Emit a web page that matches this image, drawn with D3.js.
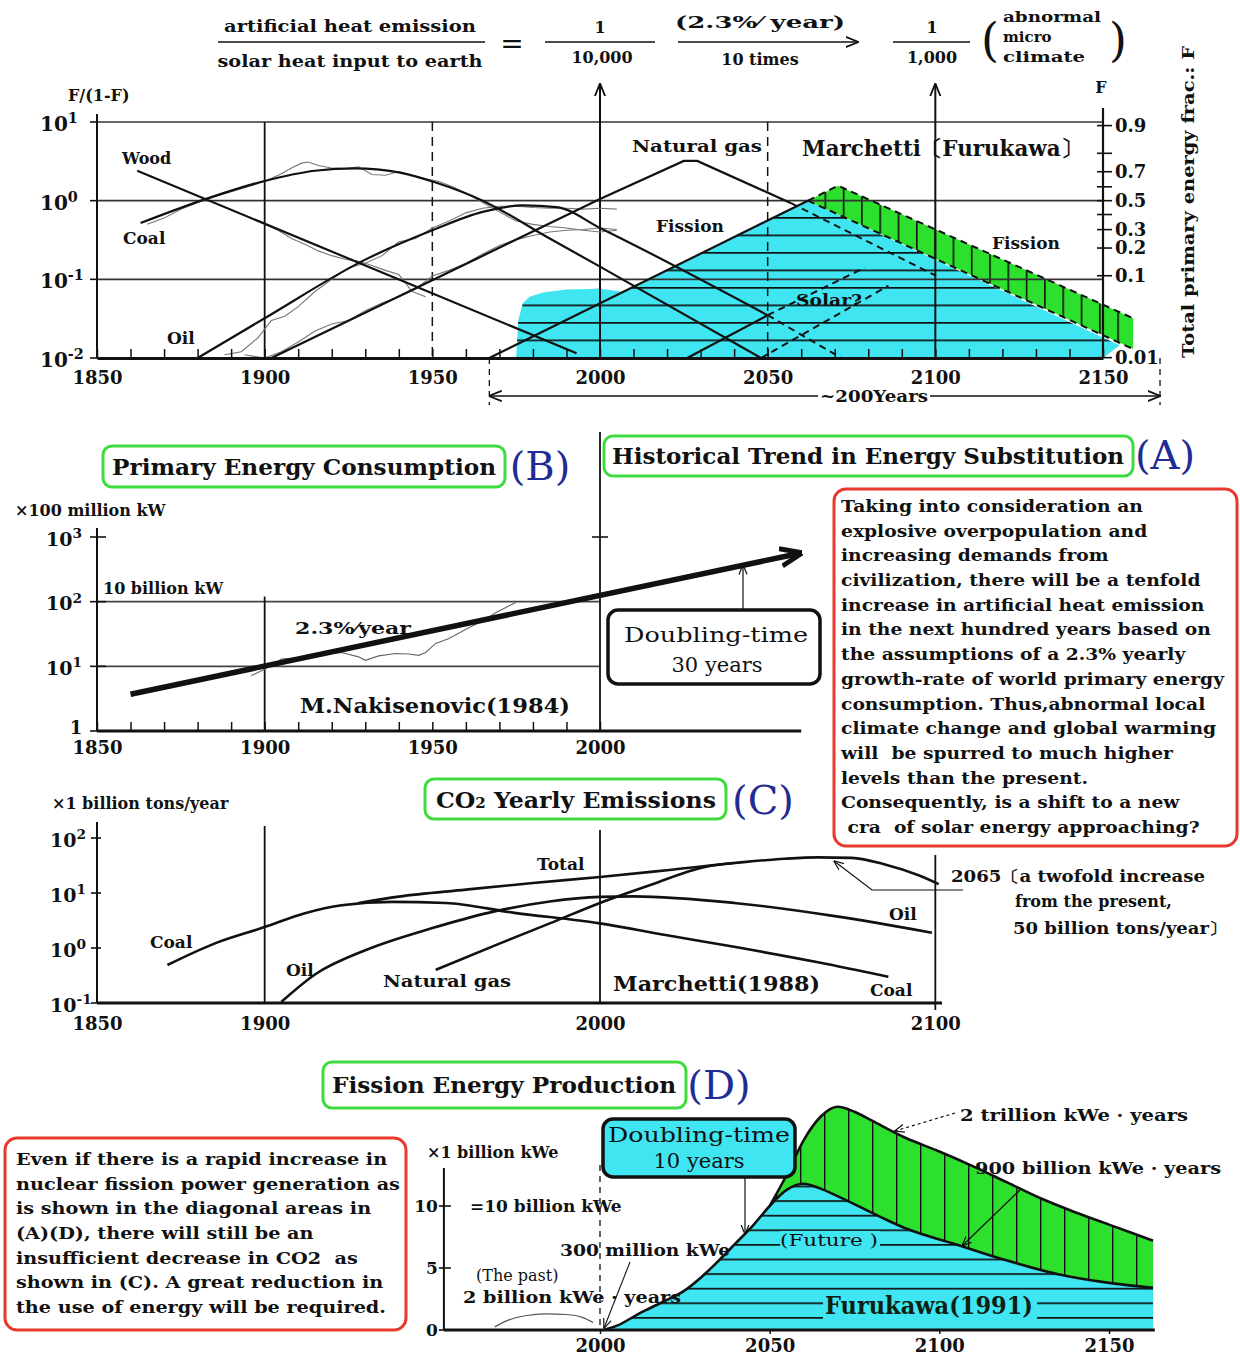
<!DOCTYPE html>
<html><head><meta charset="utf-8">
<script src="https://cdn.jsdelivr.net/npm/d3@7/dist/d3.min.js"></script>
<style>
html,body{margin:0;padding:0;background:#fff;}
svg{display:block;}
text{font-family:"DejaVu Serif","Liberation Serif",serif;}
</style></head><body>
<svg id="chart" width="1240" height="1358"></svg>
<script>
// ================= DATA =================
// Panel A : F/(1-F) ratios
const aWoodYears=[1862,1993], aWoodVals=[2.4,0.0115];
const aCoalYears=[1863,1883,1900,1915,1927,1940,1951,1965,1985,2000,2048];
const aCoalVals=[0.52,1.07,1.78,2.4,2.57,2.29,1.7,1.0,0.33,0.145,0.01];
const aOilYears=[1880,1900,1930,1950,1965,1977,1987,2000,2050];
const aOilVals=[0.01,0.032,0.178,0.42,0.72,0.87,0.83,0.45,0.035];
const aOilDashYears=[2050,2072], aOilDashVals=[0.035,0.01];
const aGasYears=[1902,1964,2000,2025,2029,2057], aGasVals=[0.01,0.19,1.05,3.2,3.2,0.93];
const aGasDashYears=[2057,2100], aGasDashVals=[0.93,0.112];
const aFissionYears=[1967,2062], aFissionVals=[0.01,1.0];
const aSolarYears=[2026,2050], aSolarVals=[0.01,0.035];
const aSolarDashYears=[2050,2079], aSolarDashVals=[0.035,0.141];
const aSolar2DashYears=[2048,2086], aSolar2DashVals=[0.01,0.083];
const aCyanYears=[1975,1975.6,1977,1979,1983,1990,2000,2007,2062,2155,2150];
const aCyanVals=[0.01,0.03,0.05,0.06,0.068,0.074,0.076,0.0695,1.0,0.0145,0.01];
const aGreenUpperYears=[2062,2071,2159], aGreenUpperVals=[1.0,1.55,0.032];
const aGreenLowerYears=[2062,2159], aGreenLowerVals=[1.0,0.013];
const aCoalHistYears=[1865,1870,1875,1880,1885,1890,1895,1900,1905,1908,1911,1913,1916,1920,1924,1928,1932,1936,1940,1944,1948,1952,1956,1960,1965,1970,1975,1980,1985,1990,1995,2000,2005];
const aCoalHistVals=[0.5,0.6,0.78,0.95,1.12,1.3,1.5,1.75,2.2,2.6,3.0,3.1,2.8,2.6,2.55,2.7,2.15,2.1,2.35,2.1,1.9,1.75,1.5,1.25,0.95,0.72,0.55,0.5,0.47,0.45,0.42,0.4,0.42];
const aWoodHistYears=[1895,1900,1904,1908,1912,1916,1920,1924,1928,1932,1936,1940,1944,1948];
const aWoodHistVals=[0.62,0.5,0.42,0.33,0.28,0.23,0.2,0.18,0.17,0.15,0.13,0.115,0.07,0.06];
const aOilHistYears=[1888,1893,1898,1902,1906,1910,1915,1920,1925,1930,1935,1940,1945,1950,1955,1960,1965,1970,1975,1980,1985,1990,1995,2000,2005];
const aOilHistVals=[0.011,0.012,0.018,0.03,0.034,0.045,0.07,0.1,0.14,0.16,0.2,0.3,0.33,0.45,0.55,0.7,0.8,0.85,0.85,0.82,0.8,0.8,0.78,0.8,0.78];
const aGasHistYears=[1894,1900,1905,1910,1915,1920,1925,1930,1935,1940,1945,1950,1955,1960,1965,1970,1975,1980,1985,1990,1995,2000,2005];
const aGasHistVals=[0.011,0.01,0.012,0.016,0.022,0.027,0.03,0.04,0.05,0.06,0.075,0.11,0.13,0.16,0.21,0.27,0.32,0.36,0.4,0.42,0.43,0.45,0.43];
const aRightTicks=[0.9,0.8,0.7,0.6,0.5,0.4,0.3,0.2,0.1,0.01];
const aRightLabels=[0.9,0.7,0.5,0.3,0.2,0.1,0.01];
const aLeftTicks=[10,1,0.1,0.01];

// Panel B : x100 million kW
const bTrendYears=[1860,2060], bTrendVals=[3.7,565];
const bHistYears=[1896,1900,1905,1910,1915,1920,1923,1928,1930,1934,1939,1943,1946,1948,1951,1955,1961,1965,1969,1975];
const bHistVals=[7.2,9.0,13,13.5,14.5,16,16.4,14,12.4,14.5,15.8,15.5,14.8,16.4,22.6,27,40,50,68,98];
const bLeftTicks=[1000,100,10,1];

// Panel C : x1 billion tons/year
const cCoalYears=[1871,1885,1900,1912,1923,1938,1954,1974,2000,2020,2040,2065,2086];
const cCoalVals=[0.49,1.2,2.4,4.3,6.0,6.9,6.6,4.4,2.8,1.7,1.05,0.55,0.30];
const cOilYears=[1905,1915,1930,1950,1967,1985,2000,2010,2040,2070,2099];
const cOilVals=[0.105,0.33,0.91,2.3,4.4,7.0,8.5,8.7,6.6,3.8,1.9];
const cGasYears=[1951,1970,1985,2000,2015,2031,2040];
const cGasVals=[0.40,1.2,2.8,6.6,14,29.5,35];
const cTotalYears=[1928,1940,1960,1980,2000,2020,2040,2055,2065,2075,2085,2095,2101];
const cTotalVals=[6.6,8.6,11.5,15.2,19.5,26,35,42,44.5,43.5,33,21,14.5];
const cLeftTicks=[100,10,1,0.1];
const cXTicks=[1850,1900,2000,2100];

// Panel D : x1 billion kWe
const dLowerYears=[2001,2005,2012,2018,2025,2030,2035,2040,2045,2050,2055,2060,2065,2070,2082,2090,2105,2120,2135,2150,2163];
const dLowerVals=[0,0.35,1.4,2.2,3.2,4.3,5.6,7.0,8.4,10.0,11.3,11.8,11.4,10.8,9.2,8.2,6.9,5.6,4.5,3.8,3.4];
const dUpperYears=[2050,2055,2060,2065,2070,2075,2080,2090,2100,2110,2120,2130,2140,2150,2163];
const dUpperVals=[10.0,12.5,15.3,17.2,18.0,17.6,16.9,15.5,14.4,13.2,11.9,10.6,9.5,8.5,7.2];
const dPastYears=[1969,1973,1978,1984,1990,1995,1998];
const dPastVals=[0.25,0.8,1.15,1.3,1.25,1.0,0.6];
const dLeftTicks=[0,5,10];
const dXTicks=[2000,2050,2100,2150];

const box1Lines=["Taking into consideration an","explosive overpopulation and","increasing demands from","civilization, there will be a tenfold","increase in artificial heat emission","in the next hundred years based on","the assumptions of a 2.3% yearly","growth-rate of world primary energy","consumption. Thus,abnormal local","climate change and global warming","will  be spurred to much higher","levels than the present.","Consequently, is a shift to a new"," cra  of solar energy approaching?"];
const box2Lines=["Even if there is a rapid increase in","nuclear fission power generation as","is shown in the diagonal areas in","(A)(D), there will still be an","insufficient decrease in CO2  as","shown in (C). A great reduction in","the use of energy will be required."];

// ================= HELPERS =================
const svg=d3.select("#chart");
const defs=svg.append("defs");
const INK="#111", CYAN="#3fe6f2", GREEN="#2ee02e", LIME="#3fdc3f", RED="#e8392c", BLUE="#1f2c94";
const zip=(a,b)=>a.map((v,i)=>[v,b[i]]);
const yearFmt=d3.format("d");
function T(g,x,y,s,o){o=o||{};
  const t=g.append("text").attr("x",x).attr("y",y).attr("dy","0.35em")
    .attr("font-size",o.size||16).attr("font-weight",o.weight||"bold")
    .attr("text-anchor",o.anchor||"start").attr("fill",o.fill||INK).text(s);
  if(o.width) t.attr("textLength",o.width).attr("lengthAdjust","spacingAndGlyphs");
  return t;}
function stretch(t,k){const n=t.node().getComputedTextLength();
  t.attr("textLength",n*k).attr("lengthAdjust","spacingAndGlyphs");return t;}
function P(g,x,y,exp,size){
  const t=g.append("text").attr("x",x).attr("y",y).attr("dy","0.35em").attr("font-size",size)
    .attr("font-weight","bold").attr("fill",INK);
  t.append("tspan").text("10");
  t.append("tspan").attr("dy","-0.55em").attr("font-size",size*0.72).text(exp);
  return t;}
function L(g,x1,y1,x2,y2,o){o=o||{};
  const l=g.append("line").attr("x1",x1).attr("y1",y1).attr("x2",x2).attr("y2",y2)
   .attr("stroke",o.stroke||INK).attr("stroke-width",o.w||1.5);
  if(o.dash) l.attr("stroke-dasharray",o.dash);
  if(o.end) l.attr("marker-end","url(#"+o.end+")");
  if(o.start) l.attr("marker-start","url(#"+o.start+")");
  return l;}
function mk(id,size,sw,filled){
  defs.append("marker").attr("id",id).attr("viewBox","0 0 10 10").attr("refX",9.5).attr("refY",5)
   .attr("markerUnits","userSpaceOnUse").attr("markerWidth",size).attr("markerHeight",size)
   .attr("orient","auto-start-reverse")
   .append("path").attr("d","M0,1 L10,5 L0,9").attr("fill",filled?INK:"none")
   .attr("stroke",INK).attr("stroke-width",sw).attr("stroke-linejoin","miter");}
mk("arr",13,1.4,false); mk("arrBig",22,2.2,false); mk("arrSmall",10,1.2,false);
function hatch(id,fill,dir,step,off,sw){
  const p=defs.append("pattern").attr("id",id).attr("patternUnits","userSpaceOnUse")
   .attr("width",dir==="h"?40:step).attr("height",dir==="h"?step:40)
   .attr(dir==="h"?"y":"x",off);
  p.append("rect").attr("width",dir==="h"?40:step).attr("height",dir==="h"?step:40).attr("fill",fill);
  if(dir==="h") p.append("line").attr("x1",0).attr("x2",40).attr("y1",sw/2).attr("y2",sw/2).attr("stroke",INK).attr("stroke-width",sw);
  else p.append("line").attr("y1",0).attr("y2",40).attr("x1",sw/2).attr("x2",sw/2).attr("stroke",INK).attr("stroke-width",sw);}
hatch("hA",CYAN,"h",17.5,7,1.6);
hatch("vA",GREEN,"v",18.3,1,1.6);
hatch("hD",CYAN,"h",14.6,3,1.6);
hatch("vD",GREEN,"v",24,8,1.4);
function greenBox(g,x,y,w,h){g.append("rect").attr("x",x).attr("y",y).attr("width",w).attr("height",h)
  .attr("rx",9).attr("fill","#fff").attr("stroke",LIME).attr("stroke-width",3);}
function styleTicks(ax){ax.selectAll(".tick line").attr("stroke",INK).attr("stroke-width",1.5);
  ax.selectAll(".tick text").attr("font-size",18).attr("font-weight","bold").attr("font-family","DejaVu Serif").attr("fill",INK);}

// ================= TOP EQUATION =================
const gE=svg.append("g");
T(gE,350,26,"artificial heat emission",{anchor:"middle",size:16,width:252});
L(gE,218,42,485,42,{w:1.3});
T(gE,350,61,"solar heat input to earth",{anchor:"middle",size:16,width:265});
T(gE,512,43,"=",{anchor:"middle",size:28,weight:"normal"});
T(gE,600,27,"1",{anchor:"middle",size:16});
L(gE,545,42,655,42,{w:1.3});
T(gE,602,57,"10,000",{anchor:"middle",size:16});
T(gE,760,22,"(2.3%\u2044 year)",{anchor:"middle",size:16,width:170});
L(gE,678,42,858,42,{w:1.3,end:"arr"});
T(gE,760,59,"10 times",{anchor:"middle",size:16});
T(gE,932,27,"1",{anchor:"middle",size:16});
L(gE,893,42,970,42,{w:1.3});
T(gE,932,57,"1,000",{anchor:"middle",size:16});
T(gE,990,40,"(",{anchor:"middle",size:46,weight:"normal"});
T(gE,1003,17,"abnormal",{size:15,width:98});
T(gE,1003,37,"micro",{size:15});
T(gE,1003,57,"climate",{size:15,width:82});
T(gE,1118,40,")",{anchor:"middle",size:46,weight:"normal"});

// ================= PANEL A =================
const gA=svg.append("g");
const xA=d3.scaleLinear().domain([1850,2150]).range([97,1103]);
const yA=d3.scaleLog().domain([0.01,10]).range([358,122]);
const lA=d3.line().x(d=>xA(d[0])).y(d=>yA(d[1]));
const lAs=d3.line().x(d=>xA(d[0])).y(d=>yA(d[1])).curve(d3.curveMonotoneX);
gA.append("path").attr("d",lA(zip(aCyanYears,aCyanVals))+"Z").attr("fill","url(#hA)");
gA.append("path").attr("d",lA(zip(aGreenUpperYears,aGreenUpperVals).concat(zip(aGreenLowerYears,aGreenLowerVals).reverse()))+"Z").attr("fill","url(#vA)");
aLeftTicks.slice(0,3).forEach(v=>L(gA,xA(1850),yA(v),xA(2150),yA(v),{w:1.6,stroke:"#333"}));
L(gA,xA(1900),yA(10),xA(1900),yA(0.01),{w:1.8});
L(gA,xA(1950),yA(10),xA(1950),yA(0.01),{w:1.5,dash:"9,6"});
L(gA,xA(2050),yA(10),xA(2050),yA(0.01),{w:1.5,dash:"9,6"});
L(gA,xA(2000),yA(0.01),xA(2000),84,{w:2,end:"arr"});
L(gA,xA(2100),yA(0.01),xA(2100),84,{w:2,end:"arr"});
[[aCoalHistYears,aCoalHistVals],[aWoodHistYears,aWoodHistVals],[aOilHistYears,aOilHistVals],[aGasHistYears,aGasHistVals]]
 .forEach(s=>gA.append("path").attr("d",lA(zip(s[0],s[1]))).attr("fill","none").attr("stroke","#777").attr("stroke-width",1.1));
const solidA=[[aWoodYears,aWoodVals,lA],[aCoalYears,aCoalVals,lAs],[aOilYears,aOilVals,lAs],[aGasYears,aGasVals,lA],[aFissionYears,aFissionVals,lA],[aSolarYears,aSolarVals,lA]];
solidA.forEach(s=>gA.append("path").attr("d",s[2](zip(s[0],s[1]))).attr("fill","none").attr("stroke",INK).attr("stroke-width",2.2));
const dashA=[[aOilDashYears,aOilDashVals],[aGasDashYears,aGasDashVals],[aSolarDashYears,aSolarDashVals],[aSolar2DashYears,aSolar2DashVals],[aGreenUpperYears,aGreenUpperVals],[aGreenLowerYears,aGreenLowerVals]];
dashA.forEach(s=>gA.append("path").attr("d",lA(zip(s[0],s[1]))).attr("fill","none").attr("stroke",INK).attr("stroke-width",2).attr("stroke-dasharray","7,5"));
const axA=gA.append("g").attr("transform",`translate(0,${yA(0.01)})`)
 .call(d3.axisBottom(xA).tickValues(d3.range(1850,2151,10)).tickSizeInner(-9).tickSizeOuter(0).tickPadding(13)
   .tickFormat(d=>d%50===0?yearFmt(d):""));
axA.select(".domain").attr("stroke-width",3).attr("stroke",INK);
styleTicks(axA);
L(gA,xA(1850),114,xA(1850),yA(0.01),{w:2});
aLeftTicks.forEach(v=>{L(gA,xA(1850)-7,yA(v),xA(1850)+1,yA(v),{w:1.6});P(gA,40,yA(v)+2,Math.round(Math.log10(v)),20);});
T(gA,68,95,"F/(1-F)",{size:16});
L(gA,xA(2150),108,xA(2150),yA(0.01),{w:2.2});
aRightTicks.forEach(f=>L(gA,xA(2150)-6,yA(f/(1-f)),xA(2150)+9,yA(f/(1-f)),{w:1.6}));
aRightLabels.forEach(f=>T(gA,xA(2150)+12,yA(f/(1-f)),String(f),{size:18}));
T(gA,1101,87,"F",{anchor:"middle",size:16});
gA.append("text").attr("transform","translate(1188,202) rotate(-90)").attr("text-anchor","middle").attr("dy","0.35em")
 .attr("font-size",16).attr("font-weight","bold").attr("fill",INK).attr("textLength",312).attr("lengthAdjust","spacingAndGlyphs")
 .text("Total primary energy frac.: F");
L(gA,xA(1967),yA(0.01),xA(1967),405,{w:1.3,dash:"6,5"});
L(gA,xA(2167),yA(0.01),xA(2167),405,{w:1.3,dash:"6,5"});
L(gA,xA(1967),396,xA(2167),396,{w:1.3,end:"arr",start:"arr"});
gA.append("rect").attr("x",818).attr("y",387).attr("width",112).attr("height",19).attr("fill","#fff");
T(gA,874,396,"~200Years",{anchor:"middle",size:16,width:108});
T(gA,122,158,"Wood",{size:16});
T(gA,123,238,"Coal",{size:17});
T(gA,167,338,"Oil",{size:17});
T(gA,632,146,"Natural gas",{size:16,width:130});
T(gA,656,226,"Fission",{size:17});
T(gA,992,243,"Fission",{size:17});
T(gA,796,300,"Solar?",{size:17,width:66});
T(gA,802,148,"Marchetti\u3014Furukawa\u3015",{size:22,width:280});

// ================= PANEL B =================
const gB=svg.append("g");
const yB=d3.scaleLog().domain([1,1000]).range([731,537]);
const lB=d3.line().x(d=>xA(d[0])).y(d=>yB(d[1]));
[100,10].forEach(v=>L(gB,xA(1850),yB(v),xA(2000),yB(v),{w:1.6,stroke:"#444"}));
L(gB,xA(1900),yB(120),xA(1900),yB(1),{w:1.8});
L(gB,xA(2000),432,xA(2000),yB(1),{w:1.8});
L(gB,xA(1850),528,xA(1850),yB(1),{w:2});
const axB=gB.append("g").attr("transform",`translate(0,${yB(1)})`)
 .call(d3.axisBottom(xA).tickValues(d3.range(1850,2001,10)).tickSizeInner(-9).tickSizeOuter(0).tickPadding(10)
   .tickFormat(d=>d%50===0?yearFmt(d):""));
axB.select(".domain").remove();
L(gB,xA(1850),yB(1),xA(2060),yB(1),{w:3});
styleTicks(axB);
bLeftTicks.forEach(v=>{L(gB,xA(1850)-7,yB(v),xA(1850)+9,yB(v),{w:1.6});
  if(v===1) T(gB,76,yB(v)-3,"1",{anchor:"middle",size:18}); else P(gB,46,yB(v)+2,Math.round(Math.log10(v)),19);});
L(gB,xA(2000)-8,yB(1000),xA(2000)+8,yB(1000),{w:1.6});
gB.append("path").attr("d",lB(zip(bHistYears,bHistVals))).attr("fill","none").attr("stroke","#666").attr("stroke-width",1.1);
gB.append("path").attr("d",lB(zip(bTrendYears,bTrendVals))).attr("fill","none").attr("stroke",INK).attr("stroke-width",5.5).attr("marker-end","url(#arrBig)");
T(gB,15,510,"\u00d7100 million kW",{size:16});
T(gB,103,588,"10 billion kW",{size:16});
T(gB,295,628,"2.3%\u2044year",{size:16,width:116});
T(gB,300,706,"M.Nakisenovic(1984)",{size:21,width:270});
L(gB,743,610,743,565,{w:1.2,end:"arrSmall"});
gB.append("rect").attr("x",608).attr("y",610).attr("width",212).attr("height",74).attr("rx",10).attr("fill","#fff").attr("stroke",INK).attr("stroke-width",3.5);
T(gB,716,635,"Doubling-time",{anchor:"middle",size:21,weight:"normal",width:184});
T(gB,717,665,"30 years",{anchor:"middle",size:21,weight:"normal"});
greenBox(gB,103,446,402,41);
T(gB,304,467,"Primary Energy Consumption",{anchor:"middle",size:22,width:384});
T(gB,540,466,"(B)",{anchor:"middle",size:40,weight:"normal",fill:BLUE});
greenBox(gB,604,436,529,40);
T(gB,868,456,"Historical Trend in Energy Substitution",{anchor:"middle",size:22,width:512});
T(gB,1165,455,"(A)",{anchor:"middle",size:40,weight:"normal",fill:BLUE});

// red box 1
const gR=svg.append("g");
gR.append("rect").attr("x",834).attr("y",489).attr("width",403).attr("height",357).attr("rx",12).attr("fill","#fff").attr("stroke",RED).attr("stroke-width",3);
box1Lines.forEach((s,i)=>stretch(T(gR,841,506+i*24.7,s,{size:17}).style("white-space","pre"),1.1));

// ================= PANEL C =================
const gC=svg.append("g");
const yC=d3.scaleLog().domain([0.1,100]).range([1003,838]);
const lC=d3.line().x(d=>xA(d[0])).y(d=>yC(d[1])).curve(d3.curveMonotoneX);
L(gC,xA(1900),826,xA(1900),yC(0.1),{w:1.8});
L(gC,xA(2000),830,xA(2000),yC(0.1),{w:1.8});
L(gC,xA(2100),855,xA(2100),1010,{w:1.8});
L(gC,xA(1850),822,xA(1850),yC(0.1),{w:2});
const axC=gC.append("g").attr("transform",`translate(0,${yC(0.1)})`)
 .call(d3.axisBottom(xA).tickValues(cXTicks).tickSize(0).tickPadding(14).tickFormat(yearFmt));
axC.select(".domain").remove();
L(gC,xA(1850),yC(0.1),xA(2102),yC(0.1),{w:3});
styleTicks(axC);
cLeftTicks.forEach(v=>{L(gC,xA(1850)-6,yC(v),xA(1850)+4,yC(v),{w:1.6});P(gC,50,yC(v)+2,Math.round(Math.log10(v)),19);});
[[cCoalYears,cCoalVals],[cOilYears,cOilVals],[cGasYears,cGasVals],[cTotalYears,cTotalVals]]
 .forEach(s=>gC.append("path").attr("d",lC(zip(s[0],s[1]))).attr("fill","none").attr("stroke",INK).attr("stroke-width",2.6));
T(gC,52,803,"\u00d71 billion tons/year",{size:16});
T(gC,150,942,"Coal",{size:17});
T(gC,286,970,"Oil",{size:17});
T(gC,383,981,"Natural gas",{size:17,width:128});
T(gC,537,864,"Total",{size:17});
T(gC,889,914,"Oil",{size:17});
T(gC,870,990,"Coal",{size:17});
T(gC,613,984,"Marchetti(1988)",{size:21,width:207});
gC.append("path").attr("d","M963,890 L872,890 L834,861").attr("fill","none").attr("stroke",INK).attr("stroke-width",1.2).attr("marker-end","url(#arrSmall)");
T(gC,951,876,"2065\u3014a twofold increase",{size:16,width:254});
T(gC,1015,901,"from the present,",{size:16});
T(gC,1013,928,"50 billion tons/year\u3015",{size:16,width:214});
greenBox(gC,425,779,301,40);
const ct=gC.append("text").attr("x",576).attr("y",800).attr("dy","0.35em").attr("text-anchor","middle")
  .attr("font-size",22).attr("font-weight","bold").attr("fill",INK).attr("textLength",280).attr("lengthAdjust","spacingAndGlyphs");
ct.append("tspan").text("CO"); ct.append("tspan").attr("font-size",14).text("2"); ct.append("tspan").text(" Yearly Emissions");
T(gC,763,800,"(C)",{anchor:"middle",size:40,weight:"normal",fill:BLUE});

// ================= PANEL D =================
const gD=svg.append("g");
const xD=d3.scaleLinear().domain([2000,2150]).range([600,1109]);
const yD=d3.scaleLinear().domain([0,10]).range([1330,1206]);
const lD=d3.line().x(d=>xD(d[0])).y(d=>yD(d[1])).curve(d3.curveMonotoneX);
const aD=d3.area().x(d=>xD(d[0])).y0(yD(0)).y1(d=>yD(d[1])).curve(d3.curveMonotoneX);
const lowPts=zip(dLowerYears,dLowerVals), upPts=zip(dUpperYears,dUpperVals);
gD.append("path").attr("d",aD(lowPts)).attr("fill","url(#hD)");
const lowTail=lowPts.filter(d=>d[0]>=2050).reverse();
gD.append("path").attr("d",lD(upPts)+lD(lowTail).replace(/^M/,"L")+"Z").attr("fill","url(#vD)");
gD.append("path").attr("d",lD(lowPts)).attr("fill","none").attr("stroke",INK).attr("stroke-width",2.6);
gD.append("path").attr("d",lD(upPts)).attr("fill","none").attr("stroke",INK).attr("stroke-width",2.6);
gD.append("path").attr("d",lD(zip(dPastYears,dPastVals))).attr("fill","none").attr("stroke","#555").attr("stroke-width",1.2);
L(gD,xD(2000),1165,xD(2000),yD(0),{w:1.3,dash:"6,5"});
L(gD,xD(1954),1168,xD(1954),yD(0),{w:2});
L(gD,xD(1954),yD(0),xD(2163.5),yD(0),{w:3});
dLeftTicks.forEach(v=>{L(gD,xD(1954)-5,yD(v),xD(1954)+7,yD(v),{w:1.6});T(gD,xD(1954)-6,yD(v),String(v),{anchor:"end",size:17});});
const axD=gD.append("g").attr("transform",`translate(0,${yD(0)})`)
 .call(d3.axisBottom(xD).tickValues(dXTicks).tickSize(4).tickPadding(5).tickFormat(yearFmt));
axD.select(".domain").remove();
styleTicks(axD);
gD.append("rect").attr("x",823).attr("y",1293).attr("width",214).attr("height",26).attr("fill",CYAN);
T(gD,929,1306,"Furukawa(1991)",{anchor:"middle",size:24,width:208,fill:"#102010"});
gD.append("rect").attr("x",780).attr("y",1231).attr("width",100).attr("height",18).attr("fill",CYAN);
T(gD,780,1240,"(Future )",{size:16,weight:"normal",width:98});
T(gD,427,1152,"\u00d71 billion kWe",{size:16});
T(gD,470,1206,"=10 billion kWe",{size:17});
T(gD,560,1250,"300 million kWe",{size:16,width:170});
T(gD,476,1275,"(The past)",{size:16,weight:"normal"});
T(gD,463,1297,"2 billion kWe \u00b7 years",{size:16,width:218});
T(gD,960,1115,"2 trillion kWe \u00b7 years",{size:16,width:228});
T(gD,975,1168,"900 billion kWe \u00b7 years",{size:16,width:246});
L(gD,955,1113,895,1131,{w:1.2,dash:"3,3",end:"arrSmall"});
L(gD,1020,1190,962,1246,{w:1.2,end:"arrSmall"});
L(gD,630,1262,604,1328,{w:1.1,end:"arrSmall"});
L(gD,745,1177,745,1234,{w:1.2,end:"arrSmall"});
gD.append("rect").attr("x",603).attr("y",1119).attr("width",192).attr("height",58).attr("rx",10).attr("fill",CYAN).attr("stroke",INK).attr("stroke-width",3.5);
T(gD,699,1135,"Doubling-time",{anchor:"middle",size:21,weight:"normal",width:182});
T(gD,699,1161,"10 years",{anchor:"middle",size:21,weight:"normal"});
greenBox(gD,323,1062,363,46);
T(gD,504,1085,"Fission Energy Production",{anchor:"middle",size:22,width:344});
T(gD,719,1085,"(D)",{anchor:"middle",size:40,weight:"normal",fill:BLUE});

// red box 2
gR.append("rect").attr("x",5).attr("y",1138).attr("width",401).attr("height",192).attr("rx",12).attr("fill","#fff").attr("stroke",RED).attr("stroke-width",3);
box2Lines.forEach((s,i)=>stretch(T(gR,16,1159+i*24.7,s,{size:17}).style("white-space","pre"),1.13));
</script></body></html>
